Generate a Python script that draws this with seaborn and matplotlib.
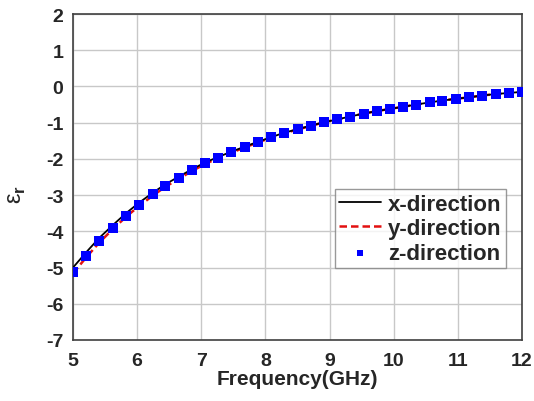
import matplotlib
matplotlib.use("Agg")
import matplotlib.pyplot as plt
import seaborn as sns
import pandas as pd

freq = [5.00, 5.21, 5.41, 5.62, 5.82, 6.03, 6.24, 6.44, 6.65, 6.85, 7.06, 7.26,
        7.47, 7.68, 7.88, 8.09, 8.29, 8.50, 8.71, 8.91, 9.12, 9.32, 9.53, 9.74,
        9.94, 10.15, 10.35, 10.56, 10.76, 10.97, 11.18, 11.38, 11.59, 11.79, 12.00]
eps_z = [-5.13, -4.67, -4.27, -3.90, -3.57, -3.26, -2.98, -2.74, -2.52, -2.32,
         -2.12, -1.97, -1.82, -1.67, -1.54, -1.40, -1.28, -1.18, -1.08, -0.99,
         -0.91, -0.83, -0.75, -0.68, -0.62, -0.56, -0.50, -0.44, -0.39, -0.34,
         -0.30, -0.25, -0.21, -0.18, -0.15]
eps_x = [-5.00, -4.57, -4.18, -3.83, -3.51, -3.21, -2.94, -2.70, -2.49, -2.29,
         -2.10, -1.95, -1.80, -1.66, -1.53, -1.40, -1.28, -1.18, -1.08, -0.99,
         -0.91, -0.83, -0.75, -0.68, -0.62, -0.56, -0.50, -0.44, -0.39, -0.34,
         -0.30, -0.25, -0.21, -0.18, -0.15]
eps_y = [-5.16, -4.71, -4.31, -3.94, -3.61, -3.30, -3.02, -2.77, -2.55, -2.34,
         -2.14, -1.98, -1.83, -1.68, -1.55, -1.41, -1.29, -1.19, -1.09, -0.99,
         -0.91, -0.83, -0.75, -0.68, -0.62, -0.56, -0.50, -0.44, -0.39, -0.34,
         -0.30, -0.25, -0.21, -0.18, -0.15]
x_ticks = [5, 6, 7, 8, 9, 10, 11, 12]
y_ticks = [2, 1, 0, -1, -2, -3, -4, -5, -6, -7]
labels = ["x-direction", "y-direction", "z-direction"]

df = pd.DataFrame({"freq": freq, "x": eps_x, "y": eps_y, "z": eps_z})

sns.set_style("white")
plt.rcParams["font.family"] = ["Liberation Sans", "DejaVu Sans"]
plt.rcParams["axes.unicode_minus"] = False
plt.rcParams["mathtext.fontset"] = "custom"
plt.rcParams["mathtext.rm"] = "Liberation Sans"
plt.rcParams["mathtext.bf"] = "Liberation Sans:bold"

fig = plt.figure(figsize=(5.34, 4.02), dpi=100)
ax = fig.add_axes([73 / 534, 1 - 341 / 402, 449 / 534, 326 / 402])

sns.lineplot(data=df, x="freq", y="y", ax=ax, color="#e31010", lw=1.8,
             linestyle=(0, (3, 1.6)), label=labels[1], zorder=3)
sns.lineplot(data=df, x="freq", y="x", ax=ax, color="black", lw=1.3,
             label=labels[0], zorder=4)
sns.scatterplot(data=df, x="freq", y="z", ax=ax, color="#0000ff", marker="s",
                s=48, linewidth=0, label=labels[2], zorder=5)

ax.set_xlim(5, 12)
ax.set_ylim(-7, 2)
ax.set_xticks(x_ticks)
ax.set_yticks(y_ticks)
ax.grid(True, color="#c8c8c8", lw=1)
ax.set_axisbelow(True)
for s in ax.spines.values():
    s.set_color("#404040")
    s.set_linewidth(1.2)
ax.tick_params(axis="both", direction="out", length=4, width=1, color="#404040",
               labelsize=14, pad=3)
ax.tick_params(axis="x", pad=5)
for t in ax.get_xticklabels() + ax.get_yticklabels():
    t.set_fontweight("bold")
ax.set_xlabel("Frequency(GHz)", fontsize=15, fontweight="bold", labelpad=0)
ax.set_ylabel("ε$_\\mathbf{r}$", fontsize=17)
ax.yaxis.set_label_coords(-0.1, 0.45)

h, l = ax.get_legend_handles_labels()
order = [l.index(n) for n in labels]
leg = ax.legend([h[i] for i in order], [l[i] for i in order],
                loc="lower right", bbox_to_anchor=(0.964, 0.221),
                borderaxespad=0, fancybox=False, frameon=True,
                prop={"weight": "bold", "size": 16}, handlelength=1.9,
                handletextpad=0.3, labelspacing=0.15, borderpad=0.2,
                markerscale=0.7)
leg.get_frame().set_edgecolor("#808080")
leg.get_frame().set_linewidth(1)

fig.savefig("out.png", dpi=100)
